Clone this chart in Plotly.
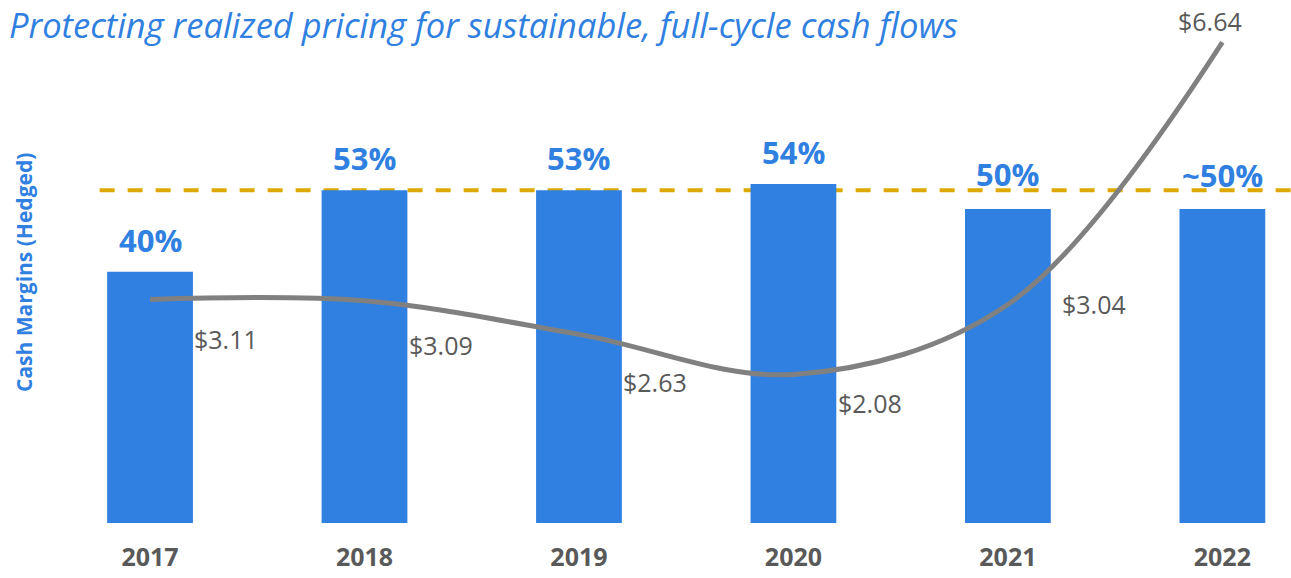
import plotly.graph_objects as go

# Chart data
years = ["2017", "2018", "2019", "2020", "2021", "2022"]
cash_margin_pct = [40, 53, 53, 54, 50, 50]
margin_labels = ["40%", "53%", "53%", "54%", "50%", "~50%"]
realized_price = [3.11, 3.09, 2.63, 2.08, 3.04, 6.64]
price_labels = ["$3.11", "$3.09", "$2.63", "$2.08", "$3.04", "$6.64"]
target_margin = 53

BLUE = "#2F80E0"
GREY_TEXT = "#595959"
LINE_GREY = "#808080"
GOLD = "#DDA800"
FONT = "Open Sans"

W, H = 1291, 578
ML, MB = 40, 55
plot_w = W - ML
plot_h = H - MB

fig = go.Figure()

fig.add_trace(go.Bar(
    x=years, y=cash_margin_pct, width=0.4,
    marker=dict(color=BLUE, line=dict(width=0)),
    hoverinfo="skip", showlegend=False,
))

fig.add_trace(go.Scatter(
    x=years, y=realized_price, yaxis="y2", mode="lines",
    line=dict(color=LINE_GREY, width=5, shape="spline", smoothing=1.0),
    hoverinfo="skip", showlegend=False,
))

# Target margin reference line
fig.add_shape(type="line", xref="x", yref="y",
              x0=-0.235, x1=5.4, y0=target_margin, y1=target_margin,
              line=dict(color=GOLD, width=4, dash="15px,13px"), layer="below")

annotations = []
# Percentage labels above bars (category axis positions are indices)
margin_shift = [32, 32, 32, 32, 35, 34]
for i, (v, lab, sh) in enumerate(zip(cash_margin_pct, margin_labels, margin_shift)):
    annotations.append(dict(
        x=i, y=v, xref="x", yref="y", text=f"<b>{lab}</b>", showarrow=False,
        xanchor="center", yanchor="middle", yshift=sh,
        font=dict(family=FONT, size=31, color=BLUE),
    ))

# Price labels beside the line
price_offsets = [
    ("left", 42, -40),
    ("left", 43, -44),
    ("left", 42, -48),
    ("left", 43, -29),
    ("left", 52, 0),
    ("center", -12, 21),
]
for i, (v, lab, (anc, dx, dy)) in enumerate(zip(realized_price, price_labels, price_offsets)):
    annotations.append(dict(
        x=i, y=v, xref="x", yref="y2", text=lab, showarrow=False,
        xanchor=anc, yanchor="middle", xshift=dx, yshift=dy,
        font=dict(family=FONT, size=25, color=GREY_TEXT),
    ))

# Title and axis caption
annotations.append(dict(
    text="<i>Protecting realized pricing for sustainable, full-cycle cash flows</i>",
    xref="paper", yref="paper", x=(8 - ML) / plot_w, y=1,
    xanchor="left", yanchor="top", showarrow=False, borderpad=0,
    font=dict(family=FONT, size=34.5, color=BLUE),
))
annotations.append(dict(
    text="<b>Cash Margins (Hedged)</b>", textangle=-90, showarrow=False,
    xref="paper", yref="paper", x=(24 - ML) / plot_w, y=(plot_h - 273) / plot_h,
    xanchor="center", yanchor="middle",
    font=dict(family=FONT, size=21, color=BLUE),
))

fig.update_layout(
    width=W, height=H,
    margin=dict(l=ML, r=0, t=0, b=MB),
    plot_bgcolor="white", paper_bgcolor="white",
    xaxis=dict(type="category", range=[-0.513, 5.32], showgrid=False, zeroline=False,
               showline=False, ticks="", tickprefix="<b>", ticksuffix="</b>",
               tickfont=dict(family=FONT, size=25, color=GREY_TEXT),
               ticklabelstandoff=17, automargin=False),
    yaxis=dict(range=[0, 83.3], visible=False, fixedrange=True),
    yaxis2=dict(range=[0.04, 7.22], overlaying="y", visible=False, fixedrange=True),
    annotations=annotations,
)

fig.write_html("out.html")
